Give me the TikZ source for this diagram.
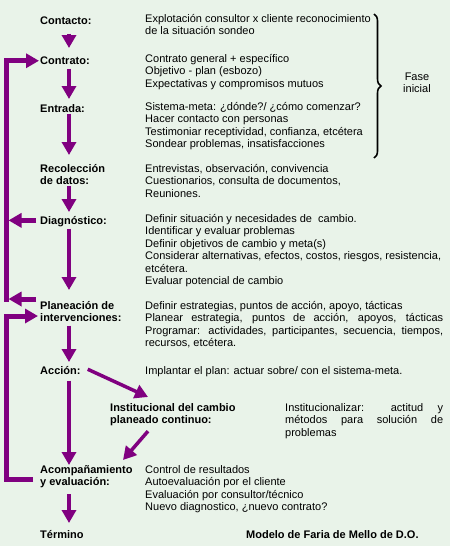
\documentclass[tikz,border=0pt]{standalone}
\usepackage{fontspec}
\setmainfont{Liberation Sans}
\usepackage{tikz}
\usetikzlibrary{arrows.meta, calc, decorations.pathreplacing}
\definecolor{fondo}{RGB}{233,243,233}
\definecolor{morado}{RGB}{128,0,128}
\tikzstyle{etapa} = [anchor=north west, inner sep=0pt, align=left, font=\fontsize{11}{12.5}\selectfont\bfseries, execute at begin node=\rule{0pt}{10pt}]
\tikzstyle{texto} = [anchor=north west, inner sep=0pt, align=left, font=\fontsize{11}{12.5}\selectfont, execute at begin node=\rule{0pt}{10pt}]
\tikzstyle{punta} = [-{Triangle[length=13pt,width=14pt]}]
\tikzstyle{flecha} = [draw=morado, line width=4pt, punta]
\tikzstyle{retro} = [draw=morado, line width=5pt, line join=miter]

\begin{document}
\begin{tikzpicture}[x=1pt, y=-1pt]
	\fill[fondo] (0,0) rectangle (450,546);
	\useasboundingbox (0,0) rectangle (450,546);
	\node (contacto) [etapa] at (40,14) {Contacto:};
	\node (contactoTxt) [texto] at (145,14) {Explotación consultor x cliente reconocimiento\\de la situación sondeo};
	\node (contrato) [etapa] at (40,54) {Contrato:};
	\node (contratoTxt) [texto] at (145,54) {Contrato general + específico\\Objetivo - plan (esbozo)\\Expectativas y compromisos mutuos};
	\node (entrada) [etapa] at (40,102) {Entrada:};
	\node (entradaTxt) [texto] at (145,102) {Sistema-meta: ¿dónde?/ ¿cómo comenzar?\\Hacer contacto con personas\\Testimoniar receptividad, confianza, etcétera\\Sondear problemas, insatisfacciones};
	\node (recoleccion) [etapa] at (40,164) {Recolección\\de datos:};
	\node (recoleccionTxt) [texto] at (145,164) {Entrevistas, observación, convivencia\\Cuestionarios, consulta de documentos,\\Reuniones.};
	\node (diagnostico) [etapa] at (40,214) {Diagnóstico:};
	\node (diagnosticoTxt) [texto] at (145,214) {Definir situación y necesidades de \ cambio.\\Identificar y evaluar problemas\\Definir objetivos de cambio y meta(s)\\Considerar alternativas, efectos, costos, riesgos, resistencia,\\etcétera.\\Evaluar potencial de cambio};
	\node (planeacion) [etapa] at (40,301) {Planeación de\\intervenciones:};
	\node (planeacionTxt) [texto] at (145,301) {Definir estrategias, puntos de acción, apoyo, tácticas\\\makebox[298pt][s]{Planear estrategia, puntos de acción, apoyos, tácticas}\\\makebox[298pt][s]{Programar: actividades, participantes, secuencia, tiempos,}\\recursos, etcétera.};
	\node (accion) [etapa] at (40,364) {Acción:};
	\node (accionTxt) [texto] at (145,364) {Implantar el plan: actuar sobre/ con el sistema-meta.};
	\node (institucional) [etapa] at (110,403) {Institucional del cambio\\planeado continuo:};
	\node (institucionalTxt) [texto] at (285,403) {\makebox[158pt][s]{Institucionalizar: actitud y}\\\makebox[158pt][s]{métodos para solución de}\\problemas};
	\node (acompanamiento) [etapa] at (40,465) {Acompañamiento\\y evaluación:};
	\node (acompanamientoTxt) [texto] at (145,465) {Control de resultados\\Autoevaluación por el cliente\\Evaluación por consultor/técnico\\Nuevo diagnostico, ¿nuevo contrato?};
	\node (termino) [etapa] at (40,528) {Término};
	\node (modelo) [etapa] at (246,528) {Modelo de Faria de Mello de D.O.};
	\node (fase) [texto, anchor=center, align=center] at (417,83) {Fase\\inicial};
	% llave de la fase inicial
	\draw[decorate, decoration={brace, amplitude=7pt}, line width=1.6pt] (374,14) -- (374,158);
	% secuencia principal
	\draw [flecha] ([xshift=29pt,yshift=-9pt]contacto.south west) -- ([xshift=29pt,yshift=6pt]contrato.north west);
	\draw [flecha] ([xshift=29pt,yshift=-4pt]contrato.south west) -- ([xshift=29pt,yshift=3pt]entrada.north west);
	\draw [flecha] ([xshift=29pt,yshift=-1pt]entrada.south west) -- ([xshift=29pt,yshift=9pt]recoleccion.north west);
	\draw [flecha] ([xshift=29pt,yshift=-1pt]recoleccion.south west) -- ([xshift=29pt,yshift=2pt]diagnostico.north west);
	\draw [flecha] ([xshift=29pt,yshift=-2pt]diagnostico.south west) -- ([xshift=29pt,yshift=11pt]planeacion.north west);
	\draw [flecha] ([xshift=29pt,yshift=-3.5pt]planeacion.south west) -- ([xshift=29pt,yshift=2pt]accion.north west);
	\draw [flecha] ([xshift=29pt,yshift=-6pt]accion.south west) -- ([xshift=29pt]acompanamiento.north west);
	\draw [flecha] ([xshift=29pt,yshift=-6pt]acompanamiento.south west) -- ([xshift=29pt,yshift=5pt]termino.north west);
	\draw [flecha, line width=3.5pt] ([xshift=7pt]accion.east) -- ([xshift=38pt,yshift=6pt]institucional.north west);
	\draw [flecha, line width=3.5pt] ([xshift=38pt,yshift=-5pt]institucional.south west) -- ([xshift=83pt,yshift=5pt]acompanamiento.north west);
	% retroalimentacion hacia el contrato
	\coordinate (bucleA) at (6,299);
	\draw [retro, punta] ([yshift=-2.5pt]bucleA) |- ([xshift=-1pt,yshift=-1.5pt]contrato.west);
	\draw [flecha, line width=5pt] ([xshift=-4pt]diagnostico.west) -- ($(diagnostico.west -| bucleA)+(2.5,0)$);
	\draw [flecha, line width=5pt] ($(planeacion.west |- bucleA)+(-4,0)$) -- ($(bucleA)+(2.5,0)$);
	% retroalimentacion hacia la planeacion
	\coordinate (bucleB) at (6,316);
	\draw [retro, punta] ([xshift=-7pt,yshift=-3pt]acompanamiento.west) -| (bucleB) -- ($(planeacion.west |- bucleB)+(-2,0)$);
\end{tikzpicture}
\end{document}
